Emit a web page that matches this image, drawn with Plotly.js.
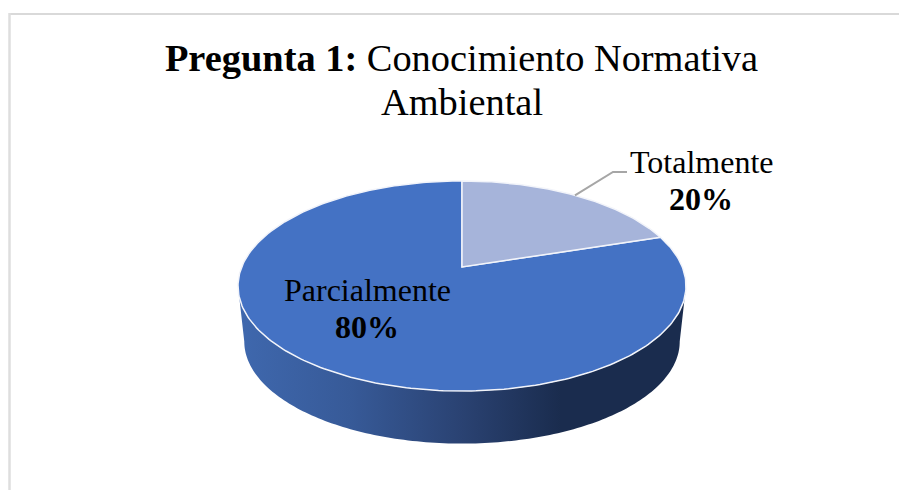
<!DOCTYPE html>
<html>
<head>
<meta charset="utf-8">
<script src="https://cdn.plot.ly/plotly-3.0.1.min.js"></script>
<style>html,body{margin:0;padding:0;background:#fff}#c{width:899px;height:490px}</style>
</head>
<body>
<div id="c"></div>
<script>
// Data
var categories = ['Parcialmente', 'Totalmente'];
var values = [80, 20];
var sliceColors = ['#4472C4', '#A6B4DA'];
var titleBold = 'Pregunta 1:';
var titleRest = 'Conocimiento Normativa';
var titleLine2 = 'Ambiental';

// Perspective view of the round pie, in axis units
var view = {cx: 462, cy: 267, sx: 220.3, sy: 101.6, p: 0.181};
var wall = {scale: 0.972, drop: 56};

function project(frac, scale, drop) {
  var a = frac * 2 * Math.PI, X = Math.sin(a), Y = Math.cos(a);
  var d = 1 + view.p * Y;
  return [view.cx + scale * view.sx * X / d,
          view.cy - scale * view.sy * Y / d + drop];
}
function arc(f0, f1, scale, drop) {
  var n = Math.max(2, Math.ceil(Math.abs(f1 - f0) * 360)), xs = [], ys = [];
  for (var i = 0; i <= n; i++) {
    var q = project(f0 + (f1 - f0) * i / n, scale, drop);
    xs.push(q[0]); ys.push(q[1]);
  }
  return [xs, ys];
}

var total = values.reduce(function (s, v) { return s + v; }, 0);
var totalShare = values[1] / total;   // Totalmente starts at 12 o'clock, clockwise
var slices = [
  {i: 0, f0: totalShare, f1: 1},
  {i: 1, f0: 0, f1: totalShare}
];

var traces = [];

// Side wall: visible front part between the rim's left and right extremes
var fR = Math.acos(-view.p) / (2 * Math.PI), fL = 1 - fR;
var up = arc(fR, fL, 1, 0), lo = arc(fL, fR, wall.scale, wall.drop);
traces.push({
  type: 'scatter', mode: 'none', hoverinfo: 'skip', showlegend: false,
  x: up[0].concat(lo[0]), y: up[1].concat(lo[1]),
  fill: 'toself',
  fillgradient: {
    type: 'horizontal',
    colorscale: [[0, '#3F68AE'], [0.25, '#375A98'], [0.5, '#2A4272'], [0.72, '#1A2C4E'], [1, '#1A2C4E']]
  }
});

// Top face slices
slices.forEach(function (s) {
  var r = arc(s.f0, s.f1, 1, 0);
  traces.push({
    type: 'scatter', mode: 'lines', name: categories[s.i], hoverinfo: 'name', showlegend: false,
    x: r[0].concat([view.cx, r[0][0]]),
    y: r[1].concat([view.cy, r[1][0]]),
    fill: 'toself', fillcolor: sliceColors[s.i],
    line: {color: '#F2F4FA', width: 1.5}
  });
});

// Leader line for the Totalmente label
var start = project(totalShare * 0.5, 1, 0);
traces.push({
  type: 'scatter', mode: 'lines', hoverinfo: 'skip', showlegend: false,
  x: [start[0], 613, 627], y: [start[1], 172, 172],
  line: {color: '#A6A6A6', width: 2}
});

var serif = 'Liberation Serif';
function note(text, x, y, size) {
  return {
    x: x, y: y, xref: 'x', yref: 'y', showarrow: false, xanchor: 'center', yanchor: 'middle',
    align: 'center', text: text, font: {family: serif, size: size, color: '#000'}
  };
}
function pct(i) { return '<b>' + Math.round(values[i] / total * 100) + '%</b>'; }

var layout = {
  width: 899, height: 490, margin: {l: 0, r: 0, t: 0, b: 0},
  paper_bgcolor: '#fff', plot_bgcolor: '#fff', showlegend: false,
  xaxis: {range: [0, 899], visible: false, fixedrange: true},
  yaxis: {range: [490, 0], visible: false, fixedrange: true},
  title: {
    text: '<b>' + titleBold + '</b> ' + titleRest,
    x: 461.5 / 899, xanchor: 'center', xref: 'paper',
    y: 1 - 58 / 490, yanchor: 'middle', yref: 'container',
    font: {family: serif, size: 38.4, color: '#000'}
  },
  shapes: [
    {type: 'line', xref: 'x', yref: 'y', x0: 9, x1: 899, y0: 14, y1: 14, line: {color: '#D9D9D9', width: 2}},
    {type: 'line', xref: 'x', yref: 'y', x0: 9.5, x1: 9.5, y0: 13, y1: 490, line: {color: '#DEDEDE', width: 2.5}}
  ],
  annotations: [
    note(titleLine2, 461.5, 102, 38.4),
    note(categories[1], 701, 162, 32),
    note(pct(1), 701, 199, 32),
    note(categories[0], 367, 290, 32),
    note(pct(0), 367, 327, 32)
  ]
};

Plotly.newPlot('c', traces, layout, {displayModeBar: false, staticPlot: true});
</script>
</body>
</html>
